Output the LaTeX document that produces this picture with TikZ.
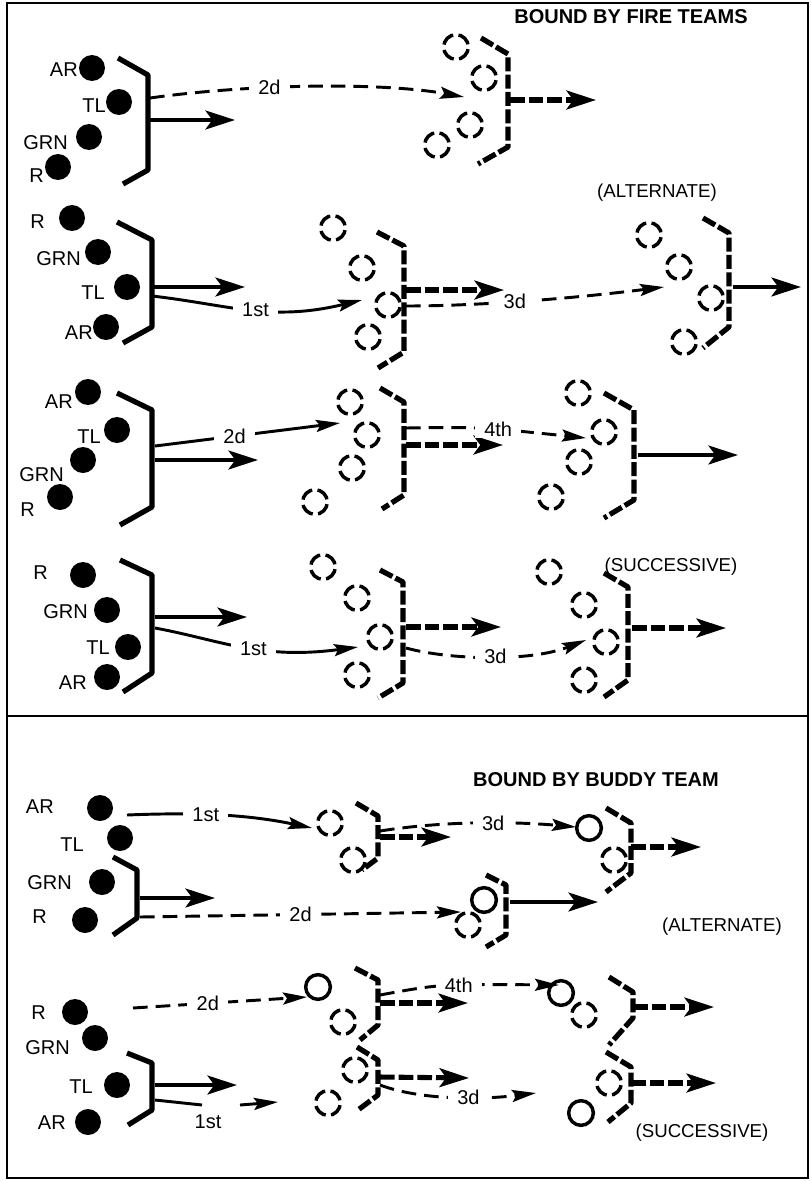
\documentclass[tikz,border=0pt]{standalone}
\usepackage{fontspec}
\setmainfont{Liberation Sans}
\usetikzlibrary{arrows.meta}
\begin{document}
\begin{tikzpicture}[x=0.75pt,y=-0.75pt,
 dot/.style={circle, fill=black, inner sep=0pt, minimum size=19.5pt},
 ring/.style={circle, draw, inner sep=0pt, minimum size=18.5pt, line width=2.6pt, dash pattern=on 10.5pt off 4.03pt, dash phase=12.5pt},
 oring/.style={circle, draw, inner sep=0pt, minimum size=18.5pt, line width=2.6pt},
 lbl/.style={font=\fontsize{15}{17}\selectfont, inner sep=0pt, anchor=east},
 plain/.style={font=\fontsize{14}{16}\selectfont, inner sep=0pt},
 txt/.style={font=\fontsize{15}{17}\selectfont, inner xsep=7pt, inner ysep=1pt, fill=white},
 ttl/.style={font=\bfseries\fontsize{15}{18}\selectfont, inner sep=0pt},
 brk/.style={line width=3.9pt, line join=round},
 dbrk/.style={line width=3.9pt, line join=round, dash pattern=on 10.5pt off 2.5pt},
 bigarr/.style={line width=3.5pt, -{Stealth[length=22pt,width=14pt,inset=5pt]}},
 dbigarr/.style={line width=3.8pt, dash pattern=on 11pt off 3pt, -{Stealth[length=22pt,width=14pt,inset=5pt]}},
 thinarr/.style={line width=2.2pt, -{Stealth[length=18pt,width=9pt,inset=3pt]}},
 dthinarr/.style={line width=2.2pt, dash pattern=on 11pt off 6pt, -{Stealth[length=18pt,width=9pt,inset=3pt]}}
]
\useasboundingbox (0,0) rectangle (812,1181);
\fill[white] (0,0) rectangle (812,1181);
% frame
\draw[line width=1.5pt] (7,3) rectangle (808,1178);
\draw[line width=1pt] (7,716) -- (808,716);

% ===== Panel 1 =====
\node[ttl] (title1) at (631,17) {BOUND BY FIRE TEAMS};
\node[dot] (a1) at (92,68) {};   \node[lbl] (la1) at (78,70) {AR};
\node[dot] (t1) at (119,102) {}; \node[lbl] (lt1) at (106,106) {TL};
\node[dot] (g1) at (89,137) {};  \node[lbl] (lg1) at (68,143) {GRN};
\node[dot] (r1) at (58,167) {};  \node[lbl] (lr1) at (44,176) {R};
\draw[brk] (118,58) -- (148,75) -- (148,170) -- (123,184);
\draw[bigarr] (150,120) -- (235,120);
\draw[dthinarr] (150,98) .. controls (250,84) and (380,82) .. (464,97) node[txt,pos=0.37] {2d};
\node[ring] (c11) at (456,47) {};
\node[ring] (c12) at (484,78) {};
\node[ring] (c13) at (470,125) {};
\node[ring] (c14) at (437,145) {};
\draw[dbrk] (481,38) -- (508,54) -- (508,147) -- (478,164);
\draw[dbigarr] (510,100) -- (596,100);
\node[plain] (alt1) at (657,193) {(ALTERNATE)};

% ===== Panel 2 =====
\node[dot] (r2) at (72,218) {};  \node[lbl] (lr2) at (45,222) {R};
\node[dot] (g2) at (98,252) {};  \node[lbl] (lg2) at (81,259) {GRN};
\node[dot] (t2) at (127,287) {}; \node[lbl] (lt2) at (105,293) {TL};
\node[dot] (a2) at (106,327) {}; \node[lbl] (la2) at (93,333) {AR};
\draw[brk] (117,222) -- (152,240) -- (152,327) -- (123,343);
\draw[bigarr] (152,287) -- (245,287);
\draw[thinarr] (152,296) .. controls (230,305) and (270,322) .. (362,300) node[txt,pos=0.52] {1st};
\node[ring] (c21) at (333,228) {};
\node[ring] (c22) at (362,268) {};
\node[ring] (c23) at (388,305) {};
\node[ring] (c24) at (368,337) {};
\draw[dbrk] (377,232) -- (404,246) -- (404,352) -- (378,368);
\draw[dbigarr] (406,290) -- (504,290);
\draw[dthinarr] (406,306) .. controls (470,306) and (560,300) .. (664,287) node[txt,pos=0.48] {3d};
\node[ring] (c25) at (649,235) {};
\node[ring] (c26) at (679,267) {};
\node[ring] (c27) at (711,298) {};
\node[ring] (c28) at (684,342) {};
\draw[dbrk] (703,218) -- (729,233) -- (729,327) -- (703,348);
\draw[bigarr] (733,287) -- (801,287);

% ===== Panel 3 =====
\node[dot] (a3) at (88,392) {};  \node[lbl] (la3) at (73,402) {AR};
\node[dot] (t3) at (117,430) {}; \node[lbl] (lt3) at (101,437) {TL};
\node[dot] (g3) at (83,460) {};  \node[lbl] (lg3) at (64,475) {GRN};
\node[dot] (r3) at (60,497) {};  \node[lbl] (lr3) at (35,510) {R};
\draw[brk] (117,393) -- (152,410) -- (152,507) -- (120,525);
\draw[bigarr] (155,460) -- (258,460);
\draw[thinarr] (155,446) -- (340,423) node[txt,pos=0.43] {2d};
\node[ring] (c31) at (350,402) {};
\node[ring] (c32) at (367,435) {};
\node[ring] (c33) at (352,468) {};
\node[ring] (c34) at (315,502) {};
\draw[dbrk] (380,388) -- (404,402) -- (404,495) -- (382,509);
\draw[dbigarr] (406,445) -- (503,445);
\draw[dthinarr] (406,428) .. controls (480,427) .. (586,438) node[txt,pos=0.6] {4th};
\node[ring] (c35) at (578,393) {};
\node[ring] (c36) at (604,432) {};
\node[ring] (c37) at (579,462) {};
\node[ring] (c38) at (551,497) {};
\draw[dbrk] (604,393) -- (634,410) -- (634,500) -- (604,518);
\draw[bigarr] (638,455) -- (738,455);

% ===== Panel 4 =====
\node[dot] (r4) at (83,575) {};  \node[lbl] (lr4) at (48,573) {R};
\node[dot] (g4) at (107,610) {}; \node[lbl] (lg4) at (88,612) {GRN};
\node[dot] (t4) at (128,647) {}; \node[lbl] (lt4) at (110,648) {TL};
\node[dot] (a4) at (107,677) {}; \node[lbl] (la4) at (87,683) {AR};
\draw[brk] (120,560) -- (152,575) -- (152,673) -- (123,692);
\draw[bigarr] (155,617) -- (247,617);
\draw[thinarr] (155,628) .. controls (220,640) and (260,660) .. (358,647) node[txt,pos=0.55] {1st};
\node[ring] (c41) at (323,567) {};
\node[ring] (c42) at (357,598) {};
\node[ring] (c43) at (380,637) {};
\node[ring] (c44) at (357,675) {};
\draw[dbrk] (380,570) -- (403,582) -- (403,683) -- (378,698);
\draw[dbigarr] (406,627) -- (501,627);
\draw[dthinarr] (406,648) .. controls (450,660) and (530,662) .. (586,640) node[txt,pos=0.52] {3d};
\node[ring] (c45) at (549,572) {};
\node[ring] (c46) at (584,605) {};
\node[ring] (c47) at (606,642) {};
\node[ring] (c48) at (584,680) {};
\draw[dbrk] (604,573) -- (628,587) -- (628,680) -- (604,697);
\draw[dbigarr] (632,628) -- (726,628);
\node[plain] (suc1) at (671,567) {(SUCCESSIVE)};

% ===== Panel 5 =====
\node[ttl] (title2) at (596,780) {BOUND BY BUDDY TEAM};
\node[dot] (a5) at (100,808) {}; \node[lbl] (la5) at (54,807) {AR};
\node[dot] (t5) at (120,838) {}; \node[lbl] (lt5) at (84,845) {TL};
\node[dot] (g5) at (102,882) {}; \node[lbl] (lg5) at (72,883) {GRN};
\node[dot] (r5) at (85,920) {};  \node[lbl] (lr5) at (47,917) {R};
\draw[thinarr] (127,815) .. controls (200,812) and (250,815) .. (312,828) node[txt,pos=0.4] {1st};
\node[ring] (c51) at (330,823) {};
\node[ring] (c52) at (353,860) {};
\draw[dbrk] (356,803) -- (378,816) -- (378,858) -- (362,870);
\draw[dbigarr] (380,837) -- (451,837);
\draw[dthinarr] (380,831) .. controls (450,820) and (520,822) .. (576,827) node[txt,pos=0.55] {3d};
\node[oring] (c53) at (589,828) {};
\node[ring] (c54) at (614,860) {};
\draw[dbrk] (606,808) -- (631,823) -- (631,873) -- (606,892);
\draw[dbigarr] (631,847) -- (701,847);
\draw[brk] (113,857) -- (137,870) -- (137,918) -- (113,935);
\draw[bigarr] (140,898) -- (215,898);
\draw[dthinarr] (140,917) -- (461,912) node[txt,pos=0.5] {2d};
\node[oring] (c55) at (484,900) {};
\node[ring] (c56) at (468,925) {};
\draw[dbrk] (486,875) -- (506,885) -- (506,935) -- (486,947);
\draw[bigarr] (510,902) -- (598,902);
\node[plain] (alt2) at (722,927) {(ALTERNATE)};

% ===== Panel 6 =====
\node[dot] (r6) at (75,1012) {};  \node[lbl] (lr6) at (46,1013) {R};
\node[dot] (g6) at (95,1038) {};  \node[lbl] (lg6) at (70,1048) {GRN};
\node[dot] (t6) at (117,1085) {}; \node[lbl] (lt6) at (93,1087) {TL};
\node[dot] (a6) at (88,1122) {};  \node[lbl] (la6) at (66,1123) {AR};
\draw[dthinarr] (133,1008) -- (307,997) node[txt,pos=0.43] {2d};
\node[oring] (c61) at (318,987) {};
\node[ring] (c62) at (343,1022) {};
\node[ring] (c63) at (355,1070) {};
\node[ring] (c64) at (328,1103) {};
\draw[dbrk] (355,968) -- (378,980) -- (378,1025) -- (360,1040);
\draw[dbrk] (357,1047) -- (378,1060) -- (378,1095) -- (358,1110);
\draw[dthinarr] (380,995) .. controls (440,984) .. (559,985) node[txt,pos=0.58] {4th};
\draw[dbigarr] (380,1003) -- (468,1003);
\node[oring] (c65) at (561,993) {};
\node[ring] (c66) at (584,1015) {};
\draw[dbrk] (609,977) -- (633,992) -- (633,1018) -- (609,1045);
\draw[dbigarr] (633,1007) -- (714,1007);
\draw[brk] (127,1053) -- (152,1063) -- (152,1110) -- (128,1125);
\draw[bigarr] (155,1085) -- (237,1085);
\draw[line width=2.2pt] (155,1100) -- (202,1105);
\node[plain, font=\fontsize{15}{17}\selectfont] (l1st6) at (208,1122) {1st};
\draw[thinarr] (240,1105) -- (278,1102);
\draw[dbigarr] (380,1077) -- (469,1078);
\draw[dthinarr] (380,1085) .. controls (420,1100) and (480,1100) .. (536,1093) node[txt,pos=0.6] {3d};
\draw[dbrk] (606,1052) -- (631,1067) -- (631,1103) -- (608,1122);
\node[ring] (c67) at (609,1083) {};
\node[oring] (c68) at (581,1113) {};
\draw[dbigarr] (631,1083) -- (716,1083);
\node[plain] (suc2) at (702,1133) {(SUCCESSIVE)};
\end{tikzpicture}
\end{document}
